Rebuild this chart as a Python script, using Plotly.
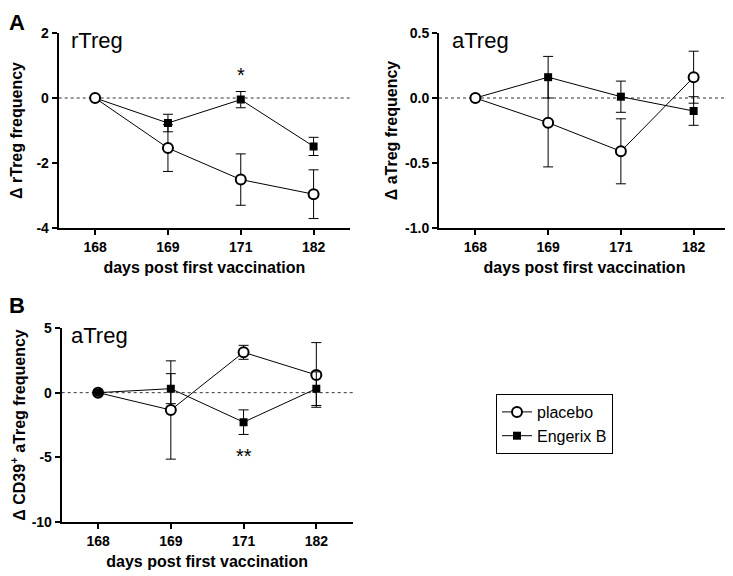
import plotly.graph_objects as go

days = ["168", "169", "171", "182"]

# Panel A left: rTreg
rtreg_placebo = [0.0, -1.54, -2.51, -2.96]
rtreg_placebo_err = [0.0, 0.72, 0.79, 0.75]
rtreg_engerix = [0.0, -0.77, -0.05, -1.49]
rtreg_engerix_err = [0.0, 0.27, 0.25, 0.28]

# Panel A right: aTreg
atreg_placebo = [0.0, -0.19, -0.41, 0.16]
atreg_placebo_err = [0.0, 0.34, 0.25, 0.20]
atreg_engerix = [0.0, 0.16, 0.01, -0.10]
atreg_engerix_err = [0.0, 0.16, 0.12, 0.11]

# Panel B: CD39+ aTreg
cd39_placebo = [0.0, -1.34, 3.12, 1.37]
cd39_placebo_err = [0.0, 3.8, 0.54, 2.5]
cd39_engerix = [0.0, 0.31, -2.28, 0.31]
cd39_engerix_err = [0.0, 1.16, 0.95, 1.3]

# significance marks: (panel, day, y, text)
sig_marks = [("x", "y", "171", 0.72, "*"), ("x3", "y3", "171", -4.9, "**")]

W, H = 733, 576
OFF = 8  # page body offset
FONT = "Liberation Sans, Arial, sans-serif"

def fx(p):
    return (p - OFF) / W

def fy(p):
    return 1 - (p - OFF) / H

def xd(a, b):
    return [fx(a), fx(b)]

def yd(top, bottom):
    return [fy(bottom), fy(top)]

fig = go.Figure()

panels = [
    ("x", "y", rtreg_placebo, rtreg_placebo_err, rtreg_engerix, rtreg_engerix_err, True, False),
    ("x2", "y2", atreg_placebo, atreg_placebo_err, atreg_engerix, atreg_engerix_err, False, False),
    ("x3", "y3", cd39_placebo, cd39_placebo_err, cd39_engerix, cd39_engerix_err, False, True),
]

for xa, ya, pv, pe, ev, ee, show, eng_top in panels:
    eng = go.Scatter(
        x=days, y=ev, xaxis=xa, yaxis=ya, name="Engerix B", mode="lines+markers",
        line=dict(color="black", width=1),
        marker=dict(symbol="square", size=8, color="black"),
        error_y=dict(type="data", array=ee, visible=True, color="black", thickness=1, width=5),
        showlegend=show, legendrank=2,
    )
    plc = go.Scatter(
        x=days, y=pv, xaxis=xa, yaxis=ya, name="placebo", mode="lines+markers",
        line=dict(color="black", width=1),
        marker=dict(symbol="circle", size=10, color="white", line=dict(color="black", width=2)),
        error_y=dict(type="data", array=pe, visible=True, color="black", thickness=1, width=5),
        showlegend=show, legendrank=1,
    )
    if eng_top:
        fig.add_trace(plc)
        fig.add_trace(eng)
    else:
        fig.add_trace(eng)
        fig.add_trace(plc)

tickfont = dict(family=FONT, size=14, color="black", weight="bold")
titlefont = dict(family=FONT, size=16, color="black", weight="bold")

def xaxis(dom, anchor):
    return dict(
        domain=dom, anchor=anchor, type="category", categoryorder="array", categoryarray=days,
        range=[-0.5, 3.5], showline=True, linecolor="black", linewidth=2, automargin=False,
        ticks="outside", ticklen=5, tickwidth=2, tickcolor="black", showgrid=False, zeroline=False,
        tickfont=tickfont,
        title=dict(text="days post first vaccination", font=titlefont, standoff=8),
    )

def yaxis(dom, anchor, rng, tv, tt, title, standoff):
    return dict(
        domain=dom, anchor=anchor, range=rng, tickvals=tv, ticktext=tt, automargin=False,
        showline=True, linecolor="black", linewidth=2,
        ticks="outside", ticklen=5, tickwidth=2, tickcolor="black", showgrid=False, zeroline=False,
        tickfont=tickfont,
        title=dict(text=title, font=titlefont, standoff=standoff),
    )

fig.update_layout(
    width=W, height=H, autosize=False,
    margin=dict(l=0, r=0, t=0, b=0),
    paper_bgcolor="white", plot_bgcolor="white",
    font=dict(family=FONT, color="black"),
    xaxis=xaxis(xd(58.7, 350), "y"),
    yaxis=yaxis(yd(33, 228), "x", [-4, 2], [-4, -2, 0, 2], ["-4", "-2", "0", "2"],
                "\u0394 rTreg frequency", 24),
    xaxis2=xaxis(xd(439, 730), "y2"),
    yaxis2=yaxis(yd(33, 228), "x2", [-1.0, 0.5], [-1.0, -0.5, 0.0, 0.5], ["-1.0", "-0.5", "0.0", "0.5"],
                 "\u0394 aTreg frequency", 3),
    xaxis3=xaxis(xd(61.7, 352.7), "y3"),
    yaxis3=yaxis(yd(328, 522), "x3", [-10, 5], [-10, -5, 0, 5], ["-10", "-5", "0", "5"],
                 "\u0394 CD39<sup>+</sup> aTreg frequency", 14),
    legend=dict(
        x=fx(496), y=fy(394), xanchor="left", yanchor="top",
        bordercolor="black", borderwidth=1, bgcolor="white",
        font=dict(family=FONT, size=16, color="black"),
        tracegroupgap=0, itemwidth=30,
    ),
)

# zero reference lines
for xa, ya in [("x", "y"), ("x2", "y2"), ("x3", "y3")]:
    fig.add_shape(type="line", xref=f"{xa} domain", yref=ya, x0=0, x1=1, y0=0, y1=0,
                  line=dict(color="#333", width=1, dash="dot"), layer="below")

# inner panel labels
inner = [("x", "y", "rTreg", 10), ("x2", "y2", "aTreg", 11), ("x3", "y3", "aTreg", 7)]
for xa, ya, t, xs in inner:
    fig.add_annotation(text=t, xref=f"{xa} domain", yref=f"{ya} domain", x=0, y=1.0,
                       xanchor="left", yanchor="top", showarrow=False, xshift=xs, yshift=7,
                       font=dict(family=FONT, size=22, color="black"))

# significance marks
for xa, ya, day, yv, t in sig_marks:
    fig.add_annotation(text=t, xref=xa, yref=ya, x=days.index(day), y=yv, showarrow=False,
                       font=dict(family=FONT, size=20, color="black"))

# panel letters
fig.add_annotation(text="<b>A</b>", xref="paper", yref="paper", x=fx(7), y=1.0,
                   xanchor="left", yanchor="top", showarrow=False,
                   font=dict(family=FONT, size=22, color="black"))
fig.add_annotation(text="<b>B</b>", xref="paper", yref="paper", x=fx(7), y=fy(291),
                   xanchor="left", yanchor="top", showarrow=False,
                   font=dict(family=FONT, size=22, color="black"))

fig.write_html("out.html")
